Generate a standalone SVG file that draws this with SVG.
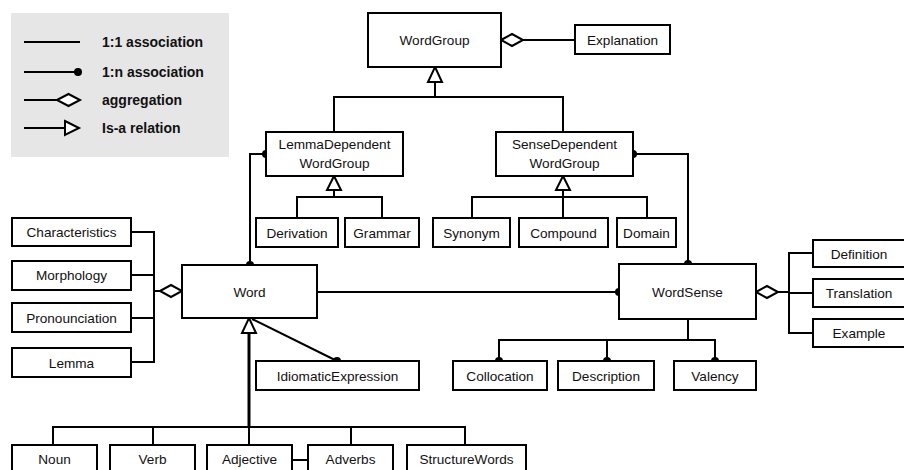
<svg xmlns="http://www.w3.org/2000/svg" width="904" height="470" viewBox="0 0 904 470">
<style>
.box{fill:#fff;stroke:#000;stroke-width:2}
.ln{fill:none;stroke:#000;stroke-width:2}
.thick{stroke-width:3}
.hollow{fill:#fff;stroke:#000;stroke-width:2;stroke-linejoin:miter}
.dot{fill:#000}
text{font-family:"Liberation Sans",Arial,sans-serif;font-size:13.6px;fill:#111;text-anchor:middle}
.lg{font-weight:bold;font-size:14px;text-anchor:start}
</style>
<rect width="904" height="470" fill="#fff"/>
<g id="legend">
<rect x="11" y="13" width="218" height="144" fill="#e6e6e6"/>
<line class="ln" x1="24" y1="42" x2="80" y2="42"/>
<line class="ln" x1="24" y1="72" x2="76" y2="72"/>
<circle class="dot" cx="78" cy="72" r="4"/>
<line class="ln" x1="24" y1="100" x2="57" y2="100"/>
<polygon class="hollow" points="57,100 68.5,94 80,100 68.5,106"/>
<line class="ln" x1="24" y1="128" x2="65" y2="128"/>
<polygon class="hollow" points="65,121 79,128 65,135"/>
<text class="lg" x="102" y="47">1:1 association</text>
<text class="lg" x="102" y="77">1:n association</text>
<text class="lg" x="102" y="105">aggregation</text>
<text class="lg" x="102" y="133">Is-a relation</text>
</g>
<g id="connectors">
<!-- WordGroup - Explanation aggregation -->
<line class="ln" x1="523" y1="40" x2="575" y2="40"/>
<polygon class="hollow" points="501,40 512,34 523,40 512,46"/>
<!-- WordGroup inheritance -->
<polyline class="ln" points="334,132 334,97 563,97 563,132"/>
<line class="ln" x1="435" y1="97" x2="435" y2="82"/>
<polygon class="hollow" points="435,67 442,82 428,82"/>
<!-- LemmaDependent inheritance -->
<polyline class="ln" points="297,218 297,197 382,197 382,218"/>
<line class="ln" x1="334" y1="197" x2="334" y2="190"/>
<polygon class="hollow" points="334,176 341,190 327,190"/>
<!-- SenseDependent inheritance -->
<polyline class="ln" points="472,218 472,197 647,197 647,218"/>
<line class="ln" x1="563" y1="218" x2="563" y2="190"/>
<polygon class="hollow" points="563,176 570,190 556,190"/>
<!-- Word - LemmaDependent 1:n -->
<polyline class="ln" points="250,265 250,154 266,154"/>
<circle class="dot" cx="250" cy="265" r="4"/>
<circle class="dot" cx="266" cy="154" r="4"/>
<!-- WordSense - SenseDependent 1:n -->
<polyline class="ln" points="633,154 688,154 688,264"/>
<circle class="dot" cx="633" cy="154" r="4"/>
<circle class="dot" cx="688" cy="264" r="4"/>
<!-- Word - WordSense -->
<line class="ln" x1="317" y1="292" x2="619" y2="292"/>
<circle class="dot" cx="619" cy="292" r="4"/>
<!-- Word aggregation left -->
<polyline class="ln" points="131,232 154,232"/>
<polyline class="ln" points="131,275 154,275"/>
<polyline class="ln" points="131,318 154,318"/>
<polyline class="ln" points="131,362 154,362"/>
<line class="ln" x1="154" y1="231" x2="154" y2="363"/>
<line class="ln" x1="154" y1="291" x2="160" y2="291"/>
<polygon class="hollow" points="160,291 171,285 182,291 171,297"/>
<!-- WordSense aggregation right -->
<polygon class="hollow" points="756,292 767,286 778,292 767,298"/>
<line class="ln" x1="778" y1="292" x2="789" y2="292"/>
<line class="ln" x1="789" y1="252" x2="789" y2="334"/>
<line class="ln" x1="789" y1="253" x2="813" y2="253"/>
<line class="ln" x1="789" y1="293" x2="813" y2="293"/>
<line class="ln" x1="789" y1="333" x2="813" y2="333"/>
<!-- WordSense 1:n below -->
<line class="ln" x1="688" y1="319" x2="688" y2="340"/>
<polyline class="ln" points="499,361 499,340 715,340 715,361"/>
<line class="ln" x1="607" y1="340" x2="607" y2="361"/>
<circle class="dot" cx="499" cy="361" r="4"/>
<circle class="dot" cx="607" cy="361" r="4"/>
<circle class="dot" cx="715" cy="361" r="4"/>
<!-- Word - IdiomaticExpression 1:n -->
<line class="ln" x1="252" y1="319" x2="337" y2="361"/>
<circle class="dot" cx="337" cy="361" r="4"/>
<!-- Word inheritance -->
<line class="ln thick" x1="249" y1="333" x2="249" y2="427"/>
<polygon class="hollow" points="249,318 256,333 242,333"/>
<polyline class="ln" points="53,445 53,427 465,427 465,445"/>
<line class="ln" x1="153" y1="427" x2="153" y2="445"/>
<line class="ln" x1="249" y1="427" x2="249" y2="445"/>
<line class="ln" x1="351" y1="427" x2="351" y2="445"/>
<!-- Adjective - Adverbs -->
<line class="ln" x1="292" y1="460" x2="308" y2="460"/>
</g>
<g id="n-wordgroup"><rect class="box" x="368" y="13" width="133" height="54"/><text x="434.5" y="45">WordGroup</text></g>
<g id="n-explanation"><rect class="box" x="575" y="25" width="95" height="29"/><text x="622.5" y="44.5">Explanation</text></g>
<g id="n-lemmadep"><rect class="box" x="266" y="132" width="137" height="44"/><text x="334.5" y="149">LemmaDependent</text><text x="334.5" y="168">WordGroup</text></g>
<g id="n-sensedep"><rect class="box" x="496" y="132" width="137" height="44"/><text x="564.5" y="149">SenseDependent</text><text x="564.5" y="168">WordGroup</text></g>
<g id="n-derivation"><rect class="box" x="256" y="218" width="82" height="29"/><text x="297" y="237.5">Derivation</text></g>
<g id="n-grammar"><rect class="box" x="345" y="218" width="74" height="29"/><text x="382" y="237.5">Grammar</text></g>
<g id="n-synonym"><rect class="box" x="433" y="218" width="77" height="29"/><text x="471.5" y="237.5">Synonym</text></g>
<g id="n-compound"><rect class="box" x="519" y="218" width="89" height="29"/><text x="563.5" y="237.5">Compound</text></g>
<g id="n-domain"><rect class="box" x="617" y="218" width="59" height="29"/><text x="646.5" y="237.5">Domain</text></g>
<g id="n-characteristics"><rect class="box" x="12" y="218" width="119" height="28"/><text x="71.5" y="237">Characteristics</text></g>
<g id="n-morphology"><rect class="box" x="12" y="261" width="119" height="29"/><text x="71.5" y="280">Morphology</text></g>
<g id="n-pronounciation"><rect class="box" x="12" y="303" width="119" height="29"/><text x="71.5" y="322.5">Pronounciation</text></g>
<g id="n-lemma"><rect class="box" x="12" y="348" width="119" height="29"/><text x="71.5" y="367.5">Lemma</text></g>
<g id="n-word"><rect class="box" x="182" y="265" width="135" height="53"/><text x="249.5" y="296.5">Word</text></g>
<g id="n-wordsense"><rect class="box" x="619" y="264" width="137" height="55"/><text x="687.5" y="296.5">WordSense</text></g>
<g id="n-definition"><rect class="box" x="813" y="240" width="93" height="27"/><text x="859" y="258.5">Definition</text></g>
<g id="n-translation"><rect class="box" x="813" y="279" width="93" height="28"/><text x="859" y="298">Translation</text></g>
<g id="n-example"><rect class="box" x="813" y="319" width="93" height="28"/><text x="859" y="338">Example</text></g>
<g id="n-idiomatic"><rect class="box" x="256" y="361" width="163" height="29"/><text x="337.5" y="380.5">IdiomaticExpression</text></g>
<g id="n-collocation"><rect class="box" x="453" y="361" width="94" height="29"/><text x="500" y="380.5">Collocation</text></g>
<g id="n-description"><rect class="box" x="558" y="361" width="96" height="29"/><text x="606" y="380.5">Description</text></g>
<g id="n-valency"><rect class="box" x="674" y="361" width="82" height="29"/><text x="715" y="380.5">Valency</text></g>
<g id="n-noun"><rect class="box" x="12" y="445" width="85" height="30"/><text x="54.5" y="464">Noun</text></g>
<g id="n-verb"><rect class="box" x="110" y="445" width="85" height="30"/><text x="152.5" y="464">Verb</text></g>
<g id="n-adjective"><rect class="box" x="207" y="445" width="85" height="30"/><text x="249.5" y="464">Adjective</text></g>
<g id="n-adverbs"><rect class="box" x="308" y="445" width="85" height="30"/><text x="350.5" y="464">Adverbs</text></g>
<g id="n-structurewords"><rect class="box" x="407" y="445" width="119" height="30"/><text x="466.5" y="464">StructureWords</text></g>
</svg>
